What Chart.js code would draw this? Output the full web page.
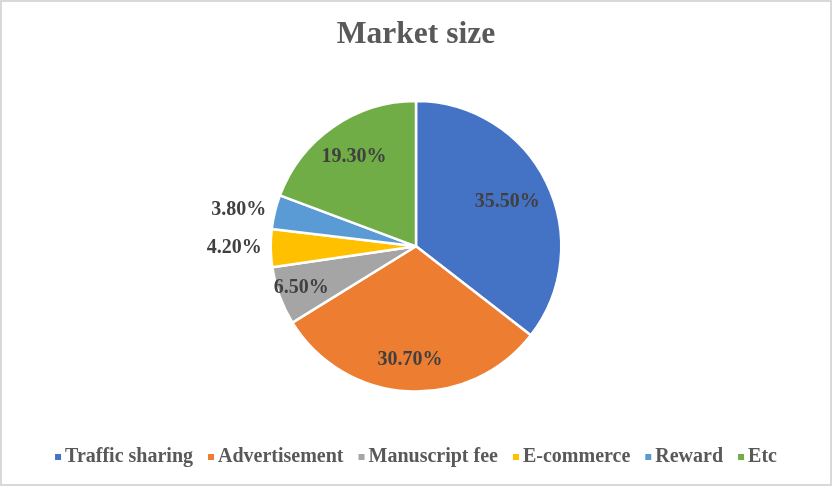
<!DOCTYPE html>
<html>
<head>
<meta charset="utf-8">
<script src="https://cdn.jsdelivr.net/npm/chart.js@4"></script>
<style>
  html, body { margin: 0; padding: 0; background: #ffffff; }
  #wrap { width: 832px; height: 486px; position: relative; }
</style>
</head>
<body>
<div id="wrap"><canvas id="c" width="832" height="486"></canvas></div>
<script>
const categories = ["Traffic sharing", "Advertisement", "Manuscript fee", "E-commerce", "Reward", "Etc"];
const shares = [35.5, 30.7, 6.5, 4.2, 3.8, 19.3];
const sliceColors = ["#4472C4", "#ED7D31", "#A5A5A5", "#FFC000", "#5B9BD5", "#70AD47"];
// label placement style per slice: inside ratio of radius, or "out"
const labelPlacement = [0.70, 0.78, 0.84, "out", "out", 0.75];

const serif = "'Liberation Serif', 'Times New Roman', serif";

const frame = {
  id: 'frame',
  beforeDraw(chart) {
    const ctx = chart.ctx;
    ctx.save();
    ctx.fillStyle = '#ffffff';
    ctx.fillRect(0, 0, chart.width, chart.height);
    ctx.strokeStyle = '#D9D9D9';
    ctx.lineWidth = 2;
    ctx.strokeRect(1, 1, chart.width - 2, chart.height - 2);
    ctx.restore();
  }
};

const legendMarkers = {
  id: 'legendMarkers',
  afterDraw(chart) {
    const lg = chart.legend;
    if (!lg || !lg.legendHitBoxes) return;
    const ctx = chart.ctx;
    ctx.save();
    lg.legendHitBoxes.forEach((b, i) => {
      ctx.fillStyle = sliceColors[i];
      ctx.fillRect(b.left, b.top + b.height / 2 - 3, 6, 6);
    });
    ctx.restore();
  }
};

const sliceLabels = {
  id: 'sliceLabels',
  afterDatasetsDraw(chart) {
    const ctx = chart.ctx;
    const meta = chart.getDatasetMeta(0);
    ctx.save();
    ctx.font = "bold 20px " + serif;
    ctx.fillStyle = '#404040';
    ctx.textBaseline = 'middle';
    meta.data.forEach((arc, i) => {
      const p = arc.getProps(['x', 'y', 'startAngle', 'endAngle', 'outerRadius'], true);
      const mid = (p.startAngle + p.endAngle) / 2;
      const txt = shares[i].toFixed(2) + '%';
      const place = labelPlacement[i];
      if (place === 'out') {
        const r = p.outerRadius + 9;
        ctx.textAlign = Math.cos(mid) < 0 ? 'right' : 'left';
        ctx.fillText(txt, p.x + r * Math.cos(mid), p.y + r * Math.sin(mid));
      } else {
        const r = p.outerRadius * place;
        ctx.textAlign = 'center';
        ctx.fillText(txt, p.x + r * Math.cos(mid), p.y + r * Math.sin(mid));
      }
    });
    ctx.restore();
  }
};

new Chart(document.getElementById('c'), {
  type: 'pie',
  data: {
    labels: categories,
    datasets: [{
      data: shares,
      backgroundColor: sliceColors,
      borderColor: '#ffffff',
      borderWidth: 2.5,
      hoverOffset: 0
    }]
  },
  options: {
    responsive: false,
    animation: false,
    events: [],
    layout: { padding: { top: 0, bottom: 9, left: 0, right: 0 } },
    plugins: {
      title: {
        display: true,
        text: 'Market size',
        color: '#595959',
        font: { family: serif, size: 31.5, weight: 'bold' },
        padding: { top: 16, bottom: 46 }
      },
      legend: {
        position: 'bottom',
        title: {
          display: true,
          text: ' ',
          font: { size: 1 },
          padding: { top: 38, bottom: 0 }
        },
        labels: {
          color: '#595959',
          font: { family: serif, size: 20, weight: 'bold' },
          boxWidth: 0,
          boxHeight: 7,
          padding: 15
        }
      },
      tooltip: { enabled: false }
    }
  },
  plugins: [frame, sliceLabels, legendMarkers]
});
</script>
</body>
</html>
